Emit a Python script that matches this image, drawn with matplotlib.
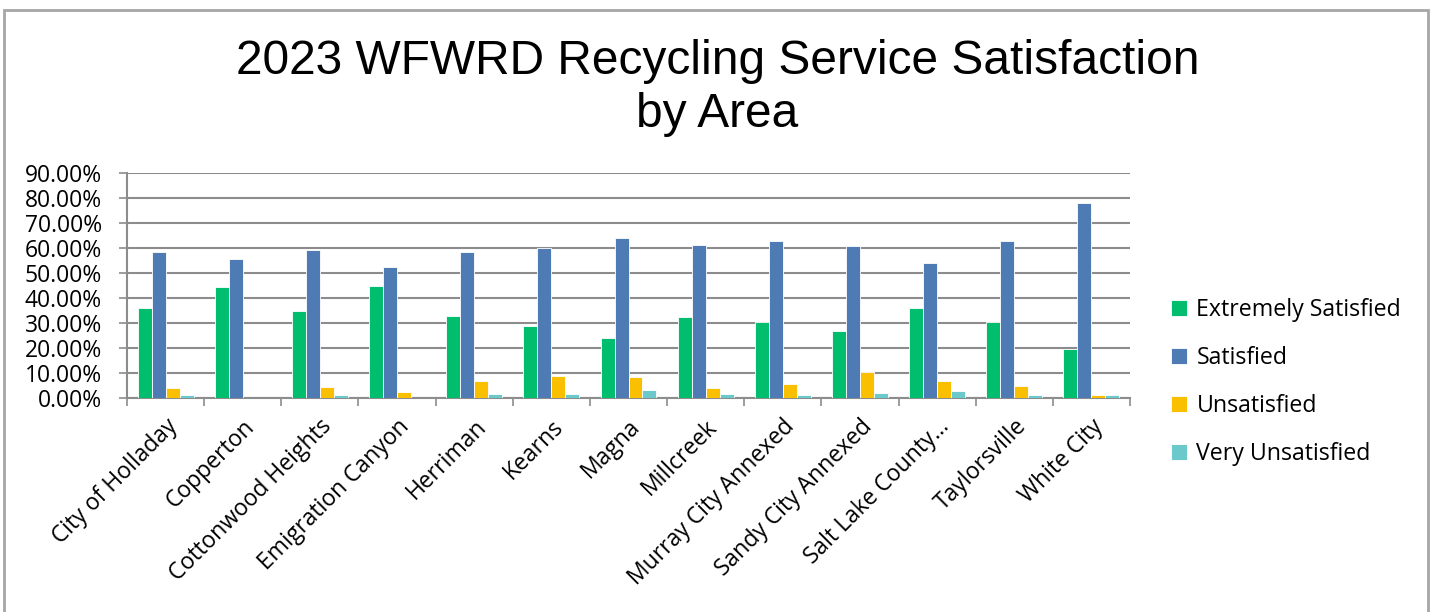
import numpy as np
import matplotlib
matplotlib.use('Agg')
import matplotlib.pyplot as plt
from matplotlib.patches import Rectangle
from matplotlib.ticker import PercentFormatter

areas = ['City of Holladay', 'Copperton', 'Cottonwood Heights', 'Emigration Canyon',
         'Herriman', 'Kearns', 'Magna', 'Millcreek', 'Murray City Annexed',
         'Sandy City Annexed', 'Salt Lake County\u2026', 'Taylorsville', 'White City']

extremely_satisfied = [36.2, 44.4, 34.9, 44.9, 33.0, 28.7, 24.1, 32.5, 30.3, 26.7, 36.1, 30.6, 19.7]
satisfied = [58.4, 55.5, 59.1, 52.4, 58.3, 60.2, 64.0, 61.2, 62.7, 60.8, 54.0, 62.8, 77.9]
unsatisfied = [4.0, 0.0, 4.5, 2.4, 6.8, 9.0, 8.3, 4.1, 5.5, 10.3, 6.8, 4.9, 1.1]
very_unsatisfied = [1.1, 0.0, 1.1, 0.0, 1.5, 1.7, 3.2, 1.7, 1.1, 1.9, 2.7, 1.3, 1.1]

series_names = ['Extremely Satisfied', 'Satisfied', 'Unsatisfied', 'Very Unsatisfied']
series_colors = ['#00BE6E', '#4F7BB5', '#FAC000', '#6CC9CB']
yticks = [0, 10, 20, 30, 40, 50, 60, 70, 80, 90]

label_font = 'Open Sans'
grey = '#8C8C8C'

fig = plt.figure(figsize=(14.35, 6.12), dpi=100)

# outer chart border (bottom edge runs off the picture)
fig.patches.append(Rectangle((4 / 1435, -0.05), 1424 / 1435, 1.05 - 10 / 612,
                             transform=fig.transFigure, fill=False,
                             edgecolor='#A6A6A6', linewidth=2))

ax = fig.add_axes([127 / 1435, 1 - 398 / 612, 1003 / 1435, 225 / 612])

x = np.arange(len(areas))
width = 0.181
all_series = [extremely_satisfied, satisfied, unsatisfied, very_unsatisfied]
for i, (vals, name, col) in enumerate(zip(all_series, series_names, series_colors)):
    ax.bar(x + (i - 1.5) * width, vals, width, color=col, label=name,
           edgecolor='white', linewidth=0.6, zorder=3)

ax.set_xlim(-0.5, len(areas) - 0.5)
ax.set_ylim(0, 90)
ax.set_yticks(yticks)
ax.yaxis.set_major_formatter(PercentFormatter(decimals=2))
ax.yaxis.grid(True, color=grey, linewidth=1.5, zorder=0)

ax.set_xticks(np.arange(len(areas) + 1) - 0.5)
ax.set_xticklabels([])
ax.set_xticks(x, minor=True)
ax.set_xticklabels(areas, minor=True, rotation=45, ha='right', rotation_mode='anchor',
                   fontsize=16.5, family=label_font)
ax.tick_params(axis='x', which='minor', length=0, pad=12)
ax.tick_params(axis='x', which='major', length=6, color=grey, width=1.2)
ax.tick_params(axis='y', length=6, color=grey, width=1.2, pad=12, labelsize=16.5)
for lbl in ax.get_yticklabels():
    lbl.set_family(label_font)

for s in ['top', 'right']:
    ax.spines[s].set_visible(False)
ax.spines['left'].set_color(grey)
ax.spines['bottom'].set_color(grey)
ax.spines['left'].set_linewidth(1.5)
ax.spines['bottom'].set_linewidth(1.5)

fig.suptitle('2023 WFWRD Recycling Service Satisfaction\nby Area', y=0.937,
             fontsize=34.5, family='Liberation Sans', linespacing=1.25)

ax.legend(loc='center left', bbox_to_anchor=(1150 / 1435, 1 - 382 / 612),
          bbox_transform=fig.transFigure, frameon=False,
          prop={'family': label_font, 'size': 16.7},
          handlelength=0.7, handleheight=0.7, handletextpad=0.4, labelspacing=1.04)

plt.savefig('out.png', dpi=100)
